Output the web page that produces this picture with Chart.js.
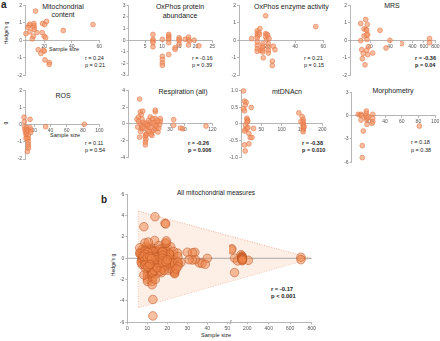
<!DOCTYPE html>
<html><head><meta charset="utf-8">
<script src="https://cdn.jsdelivr.net/npm/chart.js@4.4.1/dist/chart.umd.min.js"></script>
<style>
html,body{margin:0;padding:0;background:#fff;}
body{width:440px;height:341px;position:relative;overflow:hidden;font-family:"Liberation Sans",Arial,sans-serif;color:#222;}
.c{position:absolute;transform:translate(-50%,-50%);white-space:nowrap;line-height:1;}
.l{position:absolute;transform:translate(0,-50%);white-space:nowrap;line-height:1;}
.v{position:absolute;transform:translate(-50%,-50%) rotate(-90deg);white-space:nowrap;line-height:1;}
.b{font-weight:bold;}
</style></head><body>
<div class="l b" style="left:1px;top:5px;font-size:10px">a</div>
<div class="l b" style="left:101px;top:200px;font-size:10px">b</div>
<div class="v" style="left:6px;top:33px;font-size:5px">Hedge's g</div>
<div class="v" style="left:5px;top:123px;font-size:5px">g</div>
<div class="c" style="left:63px;top:6px;font-size:7px">Mitochondrial</div>
<div class="c" style="left:63px;top:14px;font-size:7px">content</div>
<div class="c" style="left:180px;top:6px;font-size:7px">OxPhos protein</div>
<div class="c" style="left:180px;top:15px;font-size:7px">abundance</div>
<div class="l" style="left:254px;top:6px;font-size:7px">OxPhos enzyme activity</div>
<div class="c" style="left:392px;top:5px;font-size:7px">MRS</div>
<div class="c" style="left:63px;top:95px;font-size:7px">ROS</div>
<div class="c" style="left:183px;top:91px;font-size:7px">Respiration (all)</div>
<div class="c" style="left:287px;top:91px;font-size:7px">mtDNAcn</div>
<div class="c" style="left:393px;top:90px;font-size:7px">Morphometry</div>
<div class="l" style="left:49px;top:50px;font-size:5.5px">Sample size</div>
<div class="l" style="left:50px;top:136px;font-size:5.5px">Sample size</div>
<div class="l" style="left:85px;top:59px;font-size:5.5px">r = 0.24</div>
<div class="l" style="left:85px;top:66px;font-size:5.5px">p = 0.21</div>
<div class="l" style="left:192px;top:59px;font-size:5.5px">r = -0.16</div>
<div class="l" style="left:192px;top:66px;font-size:5.5px">p = 0.39</div>
<div class="l" style="left:304px;top:59px;font-size:5.5px">r = 0.21</div>
<div class="l" style="left:304px;top:66px;font-size:5.5px">p = 0.15</div>
<div class="l b" style="left:415px;top:59px;font-size:5.5px">r = -0.36</div>
<div class="l b" style="left:415px;top:66px;font-size:5.5px">p = 0.04</div>
<div class="l" style="left:85px;top:144px;font-size:5.5px">r = 0.11</div>
<div class="l" style="left:85px;top:151px;font-size:5.5px">p = 0.54</div>
<div class="l b" style="left:188px;top:144px;font-size:5.5px">r = -0.26</div>
<div class="l b" style="left:188px;top:151px;font-size:5.5px">p = 0.006</div>
<div class="l b" style="left:302px;top:144px;font-size:5.5px">r = -0.38</div>
<div class="l b" style="left:302px;top:151px;font-size:5.5px">p = 0.010</div>
<div class="l" style="left:411px;top:143px;font-size:5.5px">r = 0.18</div>
<div class="l" style="left:411px;top:151px;font-size:5.5px">p = 0.38</div>
<div class="c" style="left:216px;top:193px;font-size:6.5px">All mitochondrial measures</div>
<div class="v" style="left:113px;top:265px;font-size:5px">Hedge's g</div>
<div class="c" style="left:216px;top:336px;font-size:5.5px">Sample size</div>
<div class="l b" style="left:271px;top:290px;font-size:5.8px">r = -0.17</div>
<div class="l b" style="left:271px;top:297px;font-size:5.8px">p &lt; 0.001</div>
<script>
// ---------- data: [sample size, Hedge's g] ----------
const mitoContent = [[13.7,1.67],[8.9,0.85],[9.6,0.92],[8.2,0.73],[6.7,0.38],[9.6,0.48],[12.5,0.96],[12.5,0.83],[12.5,0.73],[12.7,0.62],[12,0.23],[11.3,0.08],[14.7,0.44],[18.8,0.96],[20.3,0.9],[21.7,1.08],[18.5,0.44],[20,0.23],[21,0.15],[33.8,0.56],[55.4,0.9],[15.6,-0.54],[17.6,-0.75],[19.3,-0.58],[20,-0.62],[20.5,-1.12],[23.6,-1.27],[23.6,-1.38]];
const oxProtein = [[7.3,0.49],[7.3,0.07],[7.3,-0.07],[7.3,-0.22],[7.3,-0.57],[10.1,0.07],[10.1,-1.39],[10.1,-1.67],[10.1,-1.96],[10.1,-2.17],[12,0.49],[12,0.35],[12,0.2],[12,0.07],[12,-0.22],[12,-1.24],[13.9,-0.65],[13.9,-0.8],[15.1,0.2],[15.1,0.07],[15.1,-0.07],[15.1,-0.36],[16.9,0.07],[17.9,0.07],[17.9,0.26],[17.9,-0.42],[18.2,-0.07],[19.6,0],[21,-0.49]];
const oxEnzyme = [[9,0.1],[13,0.54],[13,0.38],[13,0.25],[13,0.13],[13,-0.1],[13,-0.29],[13,-0.48],[13,-0.63],[14.9,0.67],[14.2,0.44],[14.6,0.33],[15.4,-0.57],[16.9,-0.19],[16.9,-0.33],[16.9,-0.44],[16.9,-0.57],[16.9,-0.67],[17.3,-1.0],[19,1.4],[19,0.38],[19.7,0.33],[20.4,0.29],[19,0.19],[19.7,0.04],[20.9,-0.19],[20.9,-0.38],[20.9,-0.57],[20.9,-0.73],[21.4,0.1],[24.4,-0.34],[25.6,-0.54],[23.7,-1.19],[23.7,-1.44],[54.6,0.78]];
const mrs = [[10.7,0.96],[15.7,1.19],[17.3,0.9],[14,0.65],[16,0.61],[16.7,0.57],[17.7,0.33],[14,0.25],[16.5,0.3],[10.7,-0.02],[17,0.05],[30,0.57],[40,0],[36,-0.44],[18.3,-0.38],[16.7,-0.57],[11.7,-0.54],[13.3,-0.76],[17.7,-0.82],[12.3,-1.05],[22.7,-0.73],[15,-1.4],[210,-0.19],[700,0.1],[700,-0.13]];
const ros = [[7.4,0.43],[7.8,0.17],[8,-0.12],[8.6,-0.27],[9,-0.41],[9.8,-0.56],[10.7,-0.17],[10.7,-0.31],[10.7,-0.5],[10.7,-0.7],[11.5,-0.83],[12.7,-0.31],[12.7,-0.41],[12.7,-0.6],[12.7,-0.8],[12.7,-0.99],[12.7,-1.14],[12.7,-1.28],[12.7,-1.38],[11.5,-1.57],[14.8,0.31],[14.8,-0.17],[15.6,-0.31],[15.6,-0.45],[9.8,-0.8],[34,-0.12],[81.6,0.02]];
const respiration = [[8.3,2.96],[6.4,0.56],[7.6,0.84],[9.5,1.12],[8.8,1.44],[10.5,1.52],[6.9,-0.36],[7.6,0.32],[8.8,0.04],[10,-0.16],[9.5,-0.56],[8.3,-1.56],[12.4,-1.28],[12.4,-1.56],[12.8,-1.84],[12.4,-2.16],[12.4,-2.48],[12.8,-1.36],[13.5,-1.16],[14.3,-0.76],[14.7,-0.36],[15.2,-0.08],[15.9,0.24],[14.7,0.44],[17.1,-0.96],[17.1,-1.36],[18.3,-0.76],[19,-0.08],[19,0.24],[19.5,0.64],[19.5,1.44],[19.5,1.64],[19.5,-0.56],[20.7,-0.36],[21.9,0.24],[22.6,-0.08],[23.1,0.32],[23.1,0.64],[21.4,-0.96],[13.5,-0.08],[11.2,-0.56],[10.5,-0.36],[15.9,0.84],[17.6,0.64],[11,0.2],[12,0],[13,0.1],[14,-0.2],[16,-0.4],[18,0.1],[20,-0.2],[21,0.4],[22,-0.5],[16.5,-1.2],[15,-0.9],[10,0.6],[9,-0.9],[32.6,0.52],[32.6,-0.16],[37.4,-0.48],[39,-0.56],[110,-0.24]];
const mtdna = [[6.2,0.98],[8.7,0.68],[12.8,0.64],[10.3,0.56],[6.2,0.45],[8.7,0.39],[25.2,0.49],[14.4,0.17],[15.2,0.12],[16.9,0.09],[14.4,0.05],[11.1,-0.03],[10.3,-0.16],[14.4,-0.13],[16.9,-0.11],[30.9,-0.13],[8.7,-0.21],[19.4,-0.28],[22.7,-0.4],[26.8,-0.4],[8.7,-0.62],[19.4,-0.59],[10.3,-0.8],[142.3,0.33],[150.5,0.22],[153,0.14],[147.3,0.07],[153,0.07],[153,0.02],[153,-0.03],[153,-0.08],[153,-0.13],[153,-0.18],[153,-0.23],[155.4,-0.08]];
const morph = [[8,0.17],[10,0.08],[11.3,0.17],[12.1,0],[11.3,-0.57],[17.6,0.59],[17.6,0.29],[17.6,0],[17.6,-0.27],[17.6,-0.48],[19.3,-0.35],[20,-0.14],[18.4,-1.12],[25.3,0.17],[25.3,-0.35],[25.3,-0.78],[24.4,-0.99],[81.1,-1.34],[14,-1.98],[12.8,-3.86],[12.8,-5.4]];
const bExtra = [[13.85,3.9],[18.85,3.28],[19.2,3.22]];
// funnel bounds (panel b), two axis segments
const funnel1X = [5.5, 51.45], funnel1Up = [4.43, 2.08], funnel1Lo = [-4.63, -2.17];
const funnel2X = [41, 800], funnel2Up = [2.08, 0], funnel2Lo = [-2.17, 0];
// tick values
const ticks2 = [-2,-1,0,1,2], ticks3 = [-3,-2,-1,0,1,2,3], ticks4 = [-4,-2,0,2,4];
const ticksMt = [-1,-0.5,0,0.5,1], ticksMorph = [-6,-3,0,3], ticksB = [-6,-4,-2,0,2,4,6];

// ---------- drawing ----------
Chart.defaults.font.family = '"Liberation Sans", Arial, sans-serif';
const AX = '#a3a3a3', TX = '#555';
const ptA = {backgroundColor:'rgba(243,148,102,0.62)', borderColor:'rgba(228,118,70,0.85)', borderWidth:0.7, pointRadius:2.4, clip:false};
const ptB = {backgroundColor:'rgba(240,132,72,0.5)', borderColor:'rgba(185,85,35,0.75)', borderWidth:0.7, pointRadius:4.3, clip:false};
const xy = a => a.map(p => ({x:p[0], y:p[1]}));
const inR = (a, lo, hi) => a.filter(p => p[0] >= lo && p[0] <= hi);

function mk(o){
  const yw = o.showY ? (o.yw || 10) : 0;
  const xh = o.xBottom ? (o.xh || 9) : 0;
  const cl = Math.floor(o.l - yw - 1), ct = Math.floor(o.t - 4);
  const cr = Math.ceil(o.r + 6), cb = Math.ceil(o.b + (o.xBottom ? xh + 1 : 9));
  const W = cr - cl, H = cb - ct;
  const pad = {left:o.l - yw - cl, top:o.t - ct, right:cr - o.r, bottom:cb - o.b - xh};
  const cv = document.createElement('canvas');
  cv.width = W; cv.height = H;
  cv.style.cssText = 'position:absolute;left:'+cl+'px;top:'+ct+'px;width:'+W+'px;height:'+H+'px';
  document.body.appendChild(cv);
  const tk = {padding:1, font:{size:5}, color:TX, autoSkip:false, maxRotation:0, minRotation:0};
  const grid = {drawOnChartArea:false, drawTicks:true, tickLength:2, color:AX, lineWidth:0.8};
  const border = {display:true, color:AX, width:0.8};
  new Chart(cv, {
    type:'scatter',
    data:{datasets:o.datasets},
    options:{
      responsive:false, animation:false, events:[],
      layout:{padding:pad, autoPadding:false},
      plugins:{legend:{display:false}, tooltip:{enabled:false}},
      scales:{
        x:{type:'linear', position:o.xBottom ? 'bottom' : {y:0}, min:o.xmin, max:o.xmax, grid, border,
           ticks:Object.assign({}, tk, {callback:v => String(v)}),
           afterBuildTicks:s => { s.ticks = o.xticks.map(v => ({value:v})); },
           afterFit:s => { s.paddingLeft = 0; s.paddingRight = 0; if (o.xBottom) s.height = xh; }},
        y:{type:'linear', display:!!o.showY, min:o.ymin, max:o.ymax, grid, border,
           ticks:Object.assign({}, tk, {callback:o.yfmt || (v => String(v))}),
           afterBuildTicks:s => { s.ticks = o.yticks.map(v => ({value:v})); },
           afterFit:s => { s.paddingTop = 0; s.paddingBottom = 0; if (o.showY) s.width = yw; }}
      }
    }
  });
}
const sc = a => [Object.assign({data:xy(a)}, ptA)];

// row 1
mk({l:25, r:99.3, t:5.3, b:75.3, xmin:6, xmax:60, ymin:-2, ymax:2, xticks:[20,40,60], yticks:ticks2, showY:true, datasets:sc(mitoContent)});
mk({l:128.5, r:212.3, t:5.3, b:75, xmin:0, xmax:25, ymin:-3, ymax:3, xticks:[5,10,15,20,25], yticks:ticks3, showY:true, datasets:sc(oxProtein)});
mk({l:239, r:323.3, t:5.3, b:75.3, xmin:0, xmax:60, ymin:-2, ymax:2, xticks:[20,40,60], yticks:ticks2, showY:true, datasets:sc(oxEnzyme)});
mk({l:350, r:400, t:5.3, b:75.3, xmin:0, xmax:50, ymin:-2, ymax:2, xticks:[20,40], yticks:ticks2, showY:true, datasets:sc(inR(mrs,0,50))});
mk({l:401.5, r:435.3, t:5.3, b:75.3, xmin:210, xmax:800, ymin:-2, ymax:2, xticks:[400,600,800], yticks:ticks2, showY:false, datasets:sc(inR(mrs,51,900))});
// row 2
mk({l:25, r:99.3, t:90.3, b:159, xmin:8.6, xmax:100, ymin:-2, ymax:2, xticks:[20,40,60,80,100], yticks:ticks2, showY:true, datasets:sc(ros)});
mk({l:128, r:185.4, t:90.3, b:157.7, xmin:0, xmax:41, ymin:-4, ymax:4, xticks:[10,20,30,40], yticks:ticks4, showY:true, datasets:sc(inR(respiration,0,45))});
mk({l:187, r:212.3, t:90.3, b:157.7, xmin:80, xmax:120, ymin:-4, ymax:4, xticks:[120], yticks:ticks4, showY:false, datasets:sc(inR(respiration,46,200))});
mk({l:241, r:322.3, t:90.3, b:157.7, xmin:0, xmax:200, ymin:-1, ymax:1, xticks:[50,100,150,200], yticks:ticksMt, showY:true, yw:12, yfmt:v => v === 0 ? '0' : v.toFixed(1), datasets:sc(mtdna)});
mk({l:351.6, r:435.1, t:92.3, b:162.3, xmin:0, xmax:100, ymin:-6, ymax:3, xticks:[20,40,60,80,100], yticks:ticksMorph, showY:true, datasets:sc(morph)});

// panel b: all measures together
const allPts = [].concat(mitoContent, oxProtein, oxEnzyme, mrs, ros, respiration, mtdna, morph, bExtra);
const lineDs = (xs, ys, extra) => Object.assign({type:'line', data:xs.map((x,i) => ({x:x, y:ys[i]})), pointRadius:0, borderWidth:0.8, borderColor:'rgba(240,160,130,0.95)', borderDash:[1,1.5], fill:false, tension:0}, extra || {});
const zeroDs = (x0, x1) => ({type:'line', data:[{x:x0,y:0},{x:x1,y:0}], pointRadius:0, borderWidth:0.9, borderColor:'#9c9c9c', fill:false});
mk({l:127.3, r:230.2, t:194.3, b:322.3, xmin:0, xmax:51.45, ymin:-6, ymax:6, xticks:[0,10,20,30,40,50], yticks:ticksB, showY:true, xBottom:true, xh:9,
  datasets:[Object.assign({data:xy(inR(allPts,0,51.45))}, ptB), zeroDs(0,51.45),
    lineDs(funnel1X, funnel1Up, {fill:'+1', backgroundColor:'rgba(252,228,214,0.6)'}), lineDs(funnel1X, funnel1Lo),
    lineDs([funnel1X[0], funnel1X[0]], [funnel1Up[0], funnel1Lo[0]])]});
mk({l:230.2, r:311.7, t:194.3, b:322.3, xmin:41, xmax:800, ymin:-6, ymax:6, xticks:[200,400,600,800], yticks:ticksB, showY:false, xBottom:true, xh:9,
  datasets:[Object.assign({data:xy(inR(allPts,51.46,900))}, ptB), zeroDs(41,800),
    lineDs(funnel2X, funnel2Up, {fill:'+1', backgroundColor:'rgba(252,228,214,0.6)'}), lineDs(funnel2X, funnel2Lo)]});
</script>
<div class="c" style="left:230px;top:322px;font-size:6px;color:#888;letter-spacing:-1px;background:#fff">//</div>
</body></html>
